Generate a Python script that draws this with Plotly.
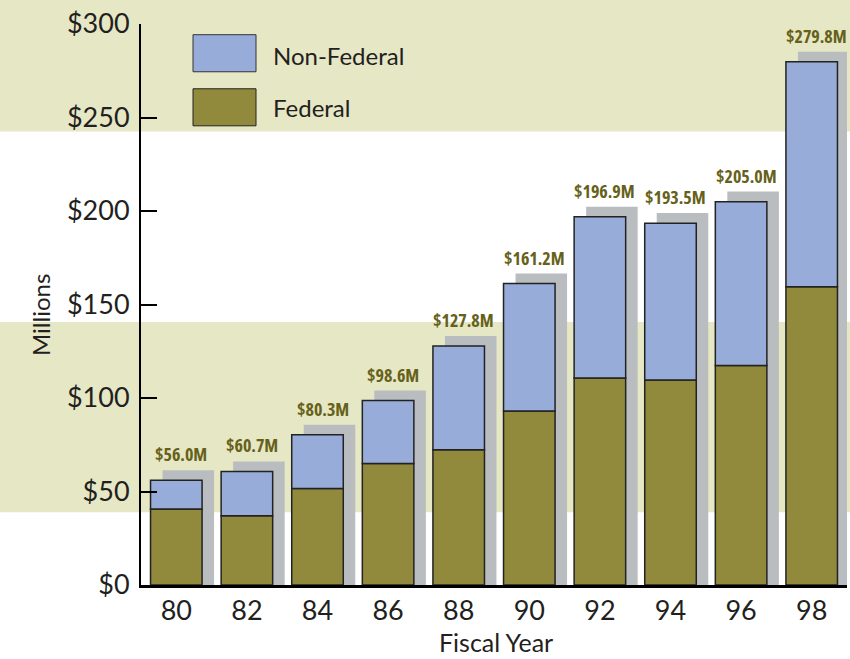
import plotly.graph_objects as go

years = ["80", "82", "84", "86", "88", "90", "92", "94", "96", "98"]
totals = [56.0, 60.7, 80.3, 98.6, 127.8, 161.2, 196.9, 193.5, 205.0, 279.8]
federal = [40.6, 37.0, 51.6, 65.0, 72.3, 93.0, 110.7, 109.6, 117.4, 159.5]
non_federal = [round(t - f, 1) for t, f in zip(totals, federal)]
total_labels = ["$%.1fM" % t for t in totals]
y_ticks = [0, 50, 100, 150, 200, 250, 300]
y_tick_labels = ["$%d" % v for v in y_ticks]

BLUE = "#97acd8"
OLIVE = "#918a3c"
BAND = "#e6e7c5"
LABEL = "#66611a"
TXT = "#231f20"
FONT = "Lato, 'Open Sans', sans-serif"
NARROW = "'Open Sans', 'DejaVu Sans', sans-serif"

W = 0.73
DX = 0.17
DEPTH = 5.4
xs = list(range(len(years)))

fig = go.Figure()
# 3D side/top face
fig.add_trace(go.Bar(x=xs, y=[t + DEPTH for t in totals], base=0, width=W, offset=-W / 2 + DX,
                     marker=dict(color="#b9bdbf", line=dict(width=0)), showlegend=False, hoverinfo="skip"))
fig.add_trace(go.Bar(x=xs, y=federal, base=0, width=W, offset=-W / 2, name="Federal",
                     marker=dict(color=OLIVE, line=dict(color="#222", width=1.5)), showlegend=False))
fig.add_trace(go.Bar(x=xs, y=non_federal, base=federal, width=W, offset=-W / 2, name="Non-Federal",
                     marker=dict(color=BLUE, line=dict(color="#222", width=1.5)), showlegend=False))

PH = 560.4
PT = 24.3
def py(p):
    return (PT + PH - p) / PH
def px(p):
    return (p - 141) / 706

shapes = [
    dict(type="rect", xref="paper", yref="paper", x0=-0.3, x1=1.1, y0=py(131.7), y1=1.1,
         fillcolor=BAND, line=dict(width=0), layer="below"),
    dict(type="rect", xref="paper", yref="paper", x0=-0.3, x1=1.1, y0=py(512), y1=py(322),
         fillcolor=BAND, line=dict(width=0), layer="below"),
    dict(type="rect", xref="paper", yref="paper", x0=px(193), x1=px(256),
         y0=py(72), y1=py(35), fillcolor=BLUE, line=dict(color="#333", width=1)),
    dict(type="rect", xref="paper", yref="paper", x0=px(193), x1=px(256),
         y0=py(126), y1=py(89), fillcolor=OLIVE, line=dict(color="#222", width=1)),
]

annotations = []
for x, t, lab in zip(xs, totals, total_labels):
    annotations.append(dict(x=x, y=t, text='<span style="font-stretch:75%">' + lab + '</span>',
                            showarrow=False, xanchor="center", yanchor="bottom",
                            xshift=5, yshift=12,
                            font=dict(family=NARROW, size=18, color=LABEL, weight="bold")))
annotations += [
    dict(xref="paper", yref="paper", x=px(271), y=py(56), text="Non-Federal",
         showarrow=False, xanchor="left", yanchor="middle", font=dict(family=FONT, size=24, color=TXT)),
    dict(xref="paper", yref="paper", x=px(271), y=py(108), text="Federal",
         showarrow=False, xanchor="left", yanchor="middle", font=dict(family=FONT, size=24, color=TXT)),
    dict(xref="paper", yref="paper", x=px(496), y=py(642), text="Fiscal Year",
         showarrow=False, xanchor="center", yanchor="middle", font=dict(family=FONT, size=25, color=TXT)),
    dict(xref="paper", yref="paper", x=px(40), y=py(315), text="Millions",
         showarrow=False, xanchor="center", yanchor="middle", textangle=-90, font=dict(family=FONT, size=24, color=TXT)),
]

fig.update_layout(
    width=850, height=659,
    margin=dict(l=141, r=3, t=24, b=74),
    paper_bgcolor="white", plot_bgcolor="rgba(0,0,0,0)",
    barmode="overlay",
    shapes=shapes, annotations=annotations,
    xaxis=dict(range=[-0.5, 9.5], tickmode="array", tickvals=xs, ticktext=years,
               showgrid=False, zeroline=False, showline=True, linecolor="black", linewidth=3,
               ticks="", tickfont=dict(family=FONT, size=27, color=TXT)),
    yaxis=dict(range=[0, 300], tickmode="array", tickvals=y_ticks, ticktext=y_tick_labels,
               showgrid=False, zeroline=False, showline=True, linecolor="black", linewidth=2,
               ticks="inside", ticklen=16, tickwidth=2, tickcolor="black",
               tickfont=dict(family=FONT, size=27, color=TXT), ticklabelstandoff=4),
    showlegend=False,
)

fig.write_html("out.html", config={"displayModeBar": False},
               post_script="document.body.style.margin='0';document.body.style.padding='0';"
                           "document.body.style.overflow='hidden';")
